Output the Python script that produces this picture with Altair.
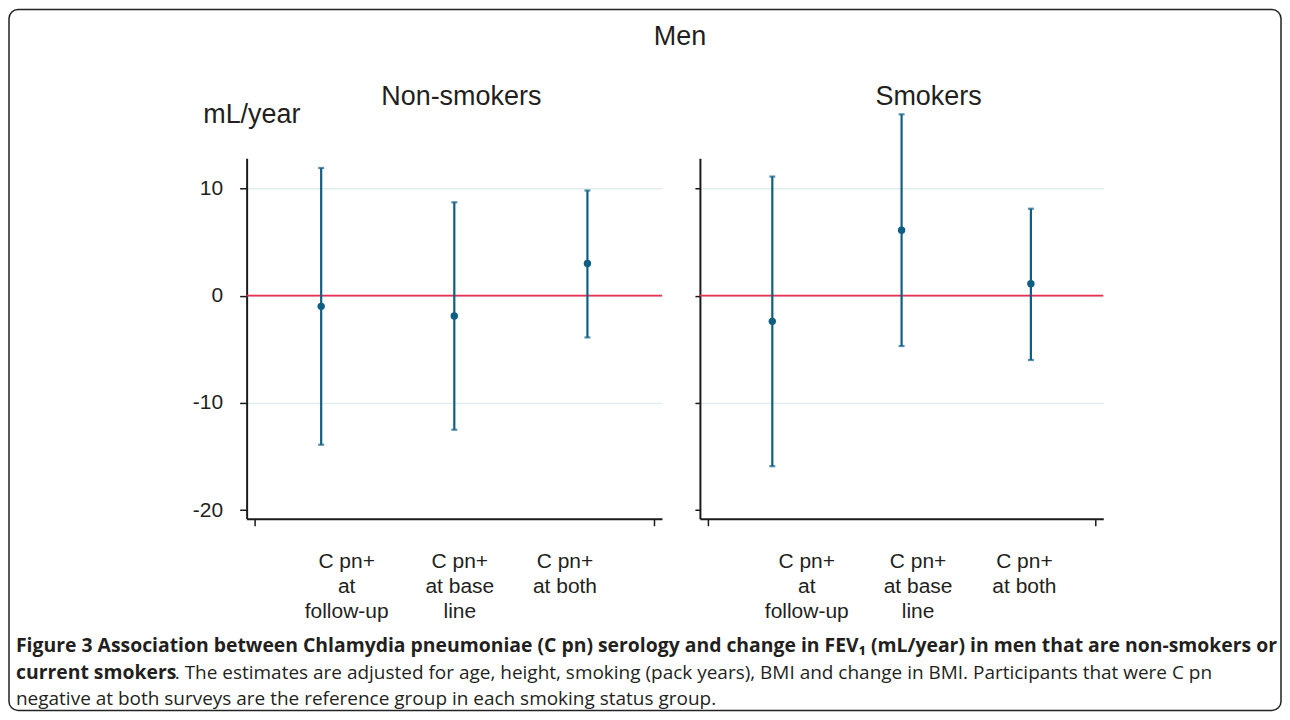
import json
import altair as alt
import pandas as pd

# ---------------- data ----------------
groups = ["Non-smokers", "Smokers"]
categories = ["C pn+ at follow-up", "C pn+ at base line", "C pn+ at both"]
category_lines = [["C pn+", "at", "follow-up"], ["C pn+", "at base", "line"], ["C pn+", "at both"]]

nonsmokers_estimate = [-1.0, -1.9, 3.0]
nonsmokers_lower = [-13.9, -12.5, -3.9]
nonsmokers_upper = [11.9, 8.7, 9.8]

smokers_estimate = [-2.4, 6.1, 1.1]
smokers_lower = [-15.9, -4.7, -6.0]
smokers_upper = [11.1, 16.9, 8.1]

y_ticks = [10, 0, -10, -20]
y_domain = [-20.8, 12.8]
x_domain = [-0.06, 3.06]
reference_value = [0]

main_title = "Men"
y_title = "mL/year"
caption_line1 = ("Figure 3 Association between Chlamydia pneumoniae (C pn) serology and change in "
                 "FEV\u2081 (mL/year) in men that are non-smokers or")
caption_line2_bold = "current smokers"
caption_line2_rest = (". The estimates are adjusted for age, height, smoking (pack years), BMI and "
                      "change in BMI. Participants that were C pn")
caption_line3 = "negative at both surveys are the reference group in each smoking status group."

# ---------------- styling ----------------
FONT = "Liberation Sans"
CAP_FONT = "Open Sans"
TXT = "#231f20"
BAR = "#0f5e84"
RED = "#ea2f50"
GRID = "#e2eeee"
AXIS = "#1b1b1b"
LEFT_LABEL_SHIFT = [25, 5, -23]    # category labels sit off-centre in the original
RIGHT_LABEL_SHIFT = [34, 16, -7]


def frame(est, lo, hi):
    return pd.DataFrame({
        "category": categories,
        "slot": [i + 0.5 for i in range(len(categories))],
        "estimate": est,
        "lower": lo,
        "upper": hi,
    })


slots = [i + 0.5 for i in range(len(categories))]
label_expr = " : ".join(
    f"datum.value == {s} ? {json.dumps(lines)}" for s, lines in zip(slots, category_lines)
) + " : ''"
x_scale = alt.Scale(domain=x_domain, nice=False, zero=False)
y_scale = alt.Scale(domain=y_domain, nice=False, zero=False)


def x_axis(shifts):
    return alt.Axis(
        values=[0] + slots + [len(categories)],
        labelExpr=label_expr,
        tickOpacity={"condition": {"test": f"datum.value == 0 || datum.value == {len(categories)}",
                                   "value": 1}, "value": 0},
        labelOffset={"condition": [{"test": f"datum.value == {s}", "value": d}
                                   for s, d in zip(slots, shifts)], "value": 0},
        title=None, grid=False, domainColor=AXIS, domainWidth=2, tickColor=AXIS,
        tickSize=7, tickWidth=1.5, labelFont=FONT, labelFontSize=21, labelColor=TXT,
        labelPadding=25, labelLineHeight=25, labelFlush=False, labelOverlap=False,
        labelAlign="center", labelBaseline="top",
    )


def y_axis(show_labels):
    kw = dict(
        values=y_ticks, grid=True, gridColor=GRID, gridWidth=1.5,
        gridOpacity={"condition": {"test": "datum.value == -20", "value": 0}, "value": 1},
        domainColor=AXIS, domainWidth=2, tickColor=AXIS, tickWidth=1.5,
    )
    if show_labels:
        kw.update(
            title=y_title, titleAngle=0, titleAlign="left", titleBaseline="alphabetic",
            titleX=-44, titleY=-36, titleFont=FONT, titleFontSize=27,
            titleFontWeight="normal", titleColor=TXT, labelExpr="toString(datum.value)",
            labelFont=FONT, labelFontSize=21, labelColor=TXT, labelPadding=17, tickSize=7,
        )
    else:
        kw.update(title=None, labels=False, tickSize=5)
    return alt.Axis(**kw)


def text_mark(text, x, y, font=FONT, size=27, weight="normal", align="center", baseline="alphabetic"):
    return alt.Chart(pd.DataFrame({"t": [text]})).mark_text(
        font=font, fontSize=size, fontWeight=weight, color=TXT,
        align=align, baseline=baseline).encode(
        x=alt.value(x), y=alt.value(y), text="t:N")


def panel(df, width, show_labels, shifts, extras):
    yax = y_axis(show_labels)
    xax = x_axis(shifts)
    ytitle = y_title if show_labels else ""
    base = alt.Chart(df)
    ref = alt.Chart(pd.DataFrame({"ref": reference_value})).mark_rule(
        color=RED, strokeWidth=1.8).encode(
        y=alt.Y("ref:Q", scale=y_scale, axis=yax, title=ytitle))
    bars = base.mark_errorbar(ticks=alt.MarkConfig(size=6), thickness=2.2, color=BAR, clip=False).encode(
        x=alt.X("slot:Q", scale=x_scale, axis=xax),
        y=alt.Y("lower:Q", scale=y_scale, axis=yax, title=ytitle),
        y2="upper:Q",
    )
    pts = base.mark_point(filled=True, size=55, opacity=1, color=BAR, clip=False).encode(
        x=alt.X("slot:Q", scale=x_scale, axis=xax),
        y=alt.Y("estimate:Q", scale=y_scale, axis=yax, title=ytitle))
    return alt.layer(ref, bars, pts, *extras).properties(width=width, height=361)


border = alt.Chart(pd.DataFrame({"b": [1]})).mark_rect(
    filled=False, stroke="#222222", strokeWidth=1.5, cornerRadius=9).encode(
    x=alt.value(-238), x2=alt.value(1036), y=alt.value(-149), y2=alt.value(553))

left_extras = [
    border,
    text_mark(main_title, 434, -113),
    text_mark(groups[0], 215, -53),
    text_mark(caption_line1, -231, 488, CAP_FONT, 19.4, "bold", "left", "middle"),
    text_mark(caption_line2_bold, -231, 515, CAP_FONT, 19.4, "bold", "left", "middle"),
    text_mark(caption_line2_rest, -72, 515, CAP_FONT, 19, "normal", "left", "middle"),
    text_mark(caption_line3, -231, 542, CAP_FONT, 19, "normal", "left", "middle"),
]
right_extras = [text_mark(groups[1], 229, -53)]

left = panel(frame(nonsmokers_estimate, nonsmokers_lower, nonsmokers_upper), 416, True,
             LEFT_LABEL_SHIFT, left_extras)
right = panel(frame(smokers_estimate, smokers_lower, smokers_upper), 404, False,
              RIGHT_LABEL_SHIFT, right_extras)

chart = alt.hconcat(left, right, spacing=38, bounds="flush").properties(
    padding={"left": 0, "top": 0, "right": 0, "bottom": 0},
    background="white",
).configure_view(stroke=None)

chart.save("out.html", embed_options={"renderer": "svg", "actions": False})
